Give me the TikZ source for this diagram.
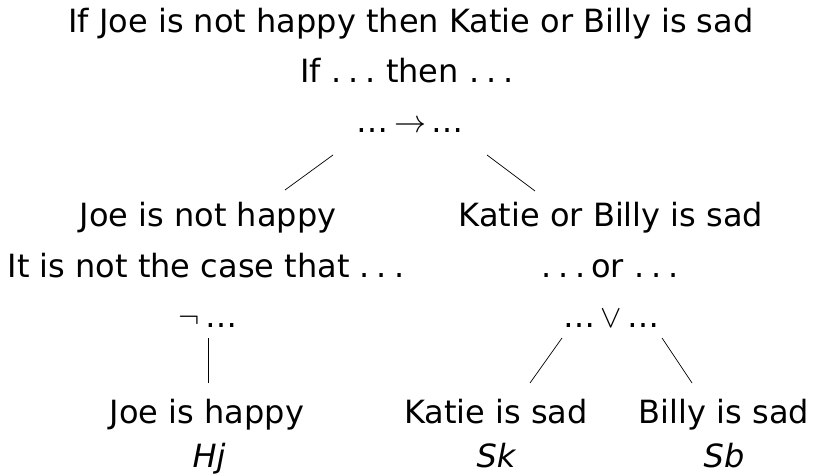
\documentclass[tikz,border=0pt]{standalone}
\usepackage{fix-cm}
\usepackage{fontspec}
\setmainfont{DejaVu Sans}
\newcommand\dts{.\kern.22em.\kern.22em.}
\begin{document}
\begin{tikzpicture}[x=1pt,y=-1pt,
  every node/.style={anchor=base,inner sep=0pt,font=\fontsize{32}{38}\selectfont},
  branch/.style={line width=0.7pt}]
\useasboundingbox (0,0) rectangle (823,476);
\node (whole) at (411,33) {If Joe is not happy then Katie or Billy is sad};
\node (ifthen) at (407,83) {If \dts\ then \dts};
\node (imp) at (410,133) {…$\,\rightarrow\,$…};
\node (jnh) at (208,227) {Joe is not happy};
\node (notcase) at (206,277) {It is not the case that \dts};
\node (neg) at (208,327) {$\neg\,$…};
\node (kobs) at (611,227) {Katie or Billy is sad};
\node (eitheror) at (610,277) {\dts\,or \dts};
\node (disj) at (611,327) {…$\,\vee\,$…};
\node (jh) at (207,423) {Joe is happy};
\node (hj) at (209,467) {\itshape Hj};
\node (ks) at (496,423) {Katie is sad};
\node (sk) at (496,467) {\itshape Sk};
\node (bs) at (724,423) {Billy is sad};
\node (sb) at (724,467) {\itshape Sb};

\draw[branch] ([shift={(-77,22)}]imp.base) -- ([shift={(77,-37)}]jnh.base);
\draw[branch] ([shift={(77,22)}]imp.base) -- ([shift={(-76,-36)}]kobs.base);
\draw[branch] ([shift={(0,11)}]neg.base) -- ([shift={(1,-40)}]jh.base);
\draw[branch] ([shift={(-49,11)}]disj.base) -- ([shift={(34,-40)}]ks.base);
\draw[branch] ([shift={(51,11)}]disj.base) -- ([shift={(-32,-40)}]bs.base);
\end{tikzpicture}
\end{document}
